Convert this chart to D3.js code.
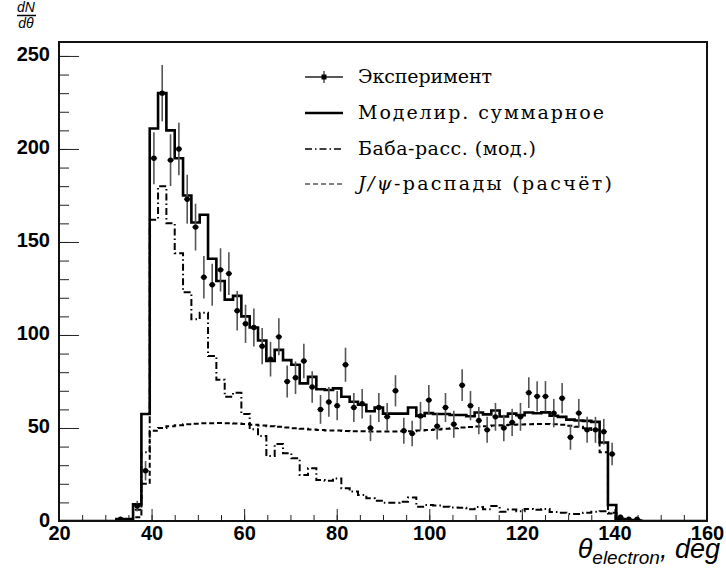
<!DOCTYPE html>
<html>
<head>
<meta charset="utf-8">
<script src="https://cdn.jsdelivr.net/npm/d3@7"></script>
<style>
  body { margin: 0; background: #fff; }
  svg { display: block; }
</style>
</head>
<body>
<div id="chart"></div>
<script>
// histogram binning (degrees)
const binStart = 32.4;
const binWidth = 1.8;

// experiment (points with errors)
const expData = [
  1, 0, 8, 27, 195, 230, 194, 200, 173, 158,
  131, 127, 135, 133, 113, 106, 104, 94, 87, 99,
  75, 77, 86, 72, 60, 64, 62, 84, 61, 63,
  50, 61, 56, 70, 48.5, 47, 56.5, 65, 51, 61,
  52, 73, 62, 54, 49, 56, 50, 53, 56, 69,
  67, 67, 58, 66, 45, 58, 49, 49, 48, 36,
  2, 1, 1
];

// simulated sum (solid)
const modelSum = [
  1, 1, 9, 57.5, 211, 230, 210, 195, 175, 160.5,
  164.6, 141, 129, 119, 121, 110, 104, 97, 86, 92,
  86.5, 84, 74, 77.5, 70.8, 70.4, 71.3, 66.8, 64.1, 62.5,
  59, 61, 57.7, 57.7, 57.7, 61, 56.5, 58, 57.5, 57.5,
  57, 57, 56.3, 58.3, 57.3, 59.4, 56.2, 57.7, 56.9, 58.3,
  57.9, 58.4, 56.6, 56, 54.5, 54, 53.8, 53.3, 42.2, 8.6,
  1, 0.5, 0.3
];

// Bhabha scattering (dash-dot)
const bhabha = [
  0.5, 0.5, 6, 37, 162, 180, 160, 144, 123, 108.4,
  112, 88.7, 76, 66.8, 69, 57.5, 49.3, 45.7, 35, 41.4,
  36.4, 33.7, 24.7, 28.3, 22, 21.7, 22.9, 17.6, 15.8, 14,
  12.2, 10.9, 9.8, 9.8, 10.4, 12.7, 7.7, 8.6, 8.3, 7.7,
  7.3, 7.1, 6.3, 7.5, 6.3, 8, 5, 6.2, 5.2, 6.5,
  6, 6.5, 4.8, 4.5, 3.8, 3.8, 4.5, 5, 5.2, 4.5,
  1, 0.5, 0.3
];

// J/psi decays (dashed)
const jpsi = [
  0, 0, 2, 20, 48.5, 50, 51, 51.5, 52, 52.3,
  52.5, 52.6, 52.7, 52.6, 52.4, 52.2, 51.8, 51.4, 51, 50.6,
  50.2, 49.9, 49.6, 49.2, 48.9, 48.7, 48.6, 48.4, 48.3, 48.2,
  48.1, 48.1, 48.1, 48.1, 48.2, 48.3, 48.6, 48.9, 49.2, 49.6,
  49.9, 50.2, 50.5, 50.8, 51, 51.3, 51.5, 51.7, 51.9, 52,
  52.1, 52.1, 52, 51.7, 51.2, 50.6, 49.8, 48.9, 37, 4,
  0.5, 0, 0
];

const xTicks = [20, 40, 60, 80, 100, 120, 140, 160];
const yTicks = [0, 50, 100, 150, 200, 250];

const legendItems = [
  { key: 'exp', label: 'Эксперимент', width: 134 },
  { key: 'sum', label: 'Моделир. суммарное', width: 246 },
  { key: 'bhabha', label: 'Баба-расс. (мод.)', width: 178 },
  { key: 'jpsi', label: 'J/ψ-распады (расчёт)', width: 254 }
];

const W = 726, H = 572;
const frame = { left: 59, right: 707, top: 42, bottom: 521 };

const svg = d3.select('#chart').append('svg')
  .attr('width', W).attr('height', H);

svg.append('rect').attr('width', W).attr('height', H).attr('fill', '#fff');

const x = d3.scaleLinear().domain([20, 160]).range([frame.left, frame.right]);
const y = d3.scaleLinear().domain([0, 257.5]).range([frame.bottom, frame.top]);

svg.append('defs').append('clipPath').attr('id', 'plotClip')
  .append('rect')
  .attr('x', frame.left).attr('y', frame.top)
  .attr('width', frame.right - frame.left)
  .attr('height', frame.bottom - frame.top);

// minor + major ticks, ROOT style (inside the frame)
const tickFont = g => g.selectAll('text')
  .attr('font-family', 'Liberation Sans, Arial, sans-serif')
  .attr('font-weight', 'bold')
  .attr('font-size', 20)
  .attr('fill', '#000');

svg.append('g')
  .attr('transform', `translate(0,${frame.bottom})`)
  .call(d3.axisBottom(x).tickValues(d3.range(20, 161, 5)).tickSize(-6).tickFormat(''))
  .call(g => g.select('.domain').remove())
  .call(g => g.selectAll('line').attr('stroke', '#222'));

svg.append('g')
  .attr('transform', `translate(0,${frame.bottom})`)
  .call(d3.axisBottom(x).tickValues(xTicks).tickSize(-12).tickPadding(5).tickFormat(d3.format('d')))
  .call(g => g.select('.domain').remove())
  .call(g => g.selectAll('line').attr('stroke', '#222'))
  .call(tickFont);

svg.append('g')
  .attr('transform', `translate(${frame.left},0)`)
  .call(d3.axisLeft(y).tickValues(d3.range(0, 251, 10)).tickSize(-10).tickFormat(''))
  .call(g => g.select('.domain').remove())
  .call(g => g.selectAll('line').attr('stroke', '#222'));

svg.append('g')
  .attr('transform', `translate(${frame.left},0)`)
  .call(d3.axisLeft(y).tickValues(yTicks).tickSize(-20).tickPadding(9).tickFormat(d3.format('d')))
  .call(g => g.select('.domain').remove())
  .call(g => g.selectAll('line').attr('stroke', '#222'))
  .call(tickFont)
  .call(g => g.selectAll('text').attr('dy', '0.25em'));

// histogram outlines
function histPoints(values) {
  const pts = [[20, 0]];
  values.forEach((v, i) => pts.push([binStart + i * binWidth, v]));
  pts.push([binStart + values.length * binWidth, 0]);
  pts.push([160, 0]);
  return pts;
}

const stepLine = d3.line()
  .x(d => x(d[0]))
  .y(d => y(d[1]))
  .curve(d3.curveStepAfter);

const plot = svg.append('g').attr('clip-path', 'url(#plotClip)');

plot.append('path')
  .attr('d', stepLine(histPoints(jpsi)))
  .attr('fill', 'none').attr('stroke', '#000')
  .attr('stroke-width', 2).attr('stroke-dasharray', '5,3');

plot.append('path')
  .attr('d', stepLine(histPoints(bhabha)))
  .attr('fill', 'none').attr('stroke', '#000')
  .attr('stroke-width', 2).attr('stroke-dasharray', '7,3,1.5,3');

plot.append('path')
  .attr('d', stepLine(histPoints(modelSum)))
  .attr('fill', 'none').attr('stroke', '#000')
  .attr('stroke-width', 2.6);

// experimental points
const pts = expData.map((v, i) => ({
  lo: binStart + i * binWidth,
  hi: binStart + (i + 1) * binWidth,
  c: binStart + (i + 0.5) * binWidth,
  v: v
})).filter(d => d.v > 0);

const pg = plot.append('g');
pg.selectAll('line.ey').data(pts).enter().append('line')
  .attr('class', 'ey')
  .attr('x1', d => x(d.c)).attr('x2', d => x(d.c))
  .attr('y1', d => y(d.v + Math.sqrt(d.v)))
  .attr('y2', d => y(Math.max(0, d.v - Math.sqrt(d.v))))
  .attr('stroke', '#555').attr('stroke-width', 1.6);
pg.selectAll('line.ex').data(pts).enter().append('line')
  .attr('class', 'ex')
  .attr('x1', d => x(d.lo) + 1).attr('x2', d => x(d.hi) - 1)
  .attr('y1', d => y(d.v)).attr('y2', d => y(d.v))
  .attr('stroke', '#111').attr('stroke-width', 1.3);
pg.selectAll('circle').data(pts).enter().append('circle')
  .attr('cx', d => x(d.c)).attr('cy', d => y(d.v))
  .attr('r', 2.7).attr('fill', '#000');

// frame
svg.append('rect')
  .attr('x', frame.left).attr('y', frame.top)
  .attr('width', frame.right - frame.left)
  .attr('height', frame.bottom - frame.top)
  .attr('fill', 'none').attr('stroke', '#111').attr('stroke-width', 2);

// legend
const legend = svg.append('g');
const rowY = [77, 113, 149, 184];
const symX0 = 305, symX1 = 343, textX = 358;

legendItems.forEach((item, i) => {
  const yy = rowY[i];
  const row = legend.append('g');
  if (item.key === 'exp') {
    row.append('line').attr('x1', symX0).attr('x2', symX1).attr('y1', yy).attr('y2', yy)
      .attr('stroke', '#222').attr('stroke-width', 1.3);
    row.append('line').attr('x1', (symX0 + symX1) / 2).attr('x2', (symX0 + symX1) / 2)
      .attr('y1', yy - 6).attr('y2', yy + 6).attr('stroke', '#333').attr('stroke-width', 1.3);
    row.append('rect').attr('x', (symX0 + symX1) / 2 - 2.5).attr('y', yy - 2.5)
      .attr('width', 5).attr('height', 5).attr('fill', '#000');
  } else {
    const l = row.append('line').attr('x1', symX0).attr('x2', symX1).attr('y1', yy).attr('y2', yy)
      .attr('stroke', '#000');
    if (item.key === 'sum') l.attr('stroke-width', 2.6);
    if (item.key === 'bhabha') l.attr('stroke-width', 1.3).attr('stroke-dasharray', '7,3,1.5,3');
    if (item.key === 'jpsi') l.attr('stroke-width', 1.3).attr('stroke-dasharray', '5,3').attr('stroke', '#555');
  }
  const t = row.append('text')
    .attr('x', textX).attr('y', yy + 6)
    .attr('font-family', 'DejaVu Serif, Liberation Serif, serif')
    .attr('font-size', 19)
    .attr('textLength', item.width)
    .attr('lengthAdjust', 'spacing')
    .attr('fill', '#000');
  if (item.key === 'jpsi') {
    t.append('tspan').attr('font-style', 'italic').text('J/ψ');
    t.append('tspan').text('-распады (расчёт)');
  } else {
    t.text(item.label);
  }
});

// y title: dN / dθ
const yt = svg.append('g')
  .attr('font-family', 'Liberation Sans, Arial, sans-serif')
  .attr('font-style', 'italic')
  .attr('font-size', 14);
yt.append('text').attr('x', 26).attr('y', 12).attr('text-anchor', 'middle').text('dN');
yt.append('line').attr('x1', 17).attr('x2', 36).attr('y1', 15.5).attr('y2', 15.5)
  .attr('stroke', '#000').attr('stroke-width', 1.5);
yt.append('text').attr('x', 26).attr('y', 28).attr('text-anchor', 'middle').text('dθ');

// x title
const xt = svg.append('text')
  .attr('x', 720).attr('y', 558)
  .attr('text-anchor', 'end')
  .attr('font-family', 'Liberation Sans, Arial, sans-serif')
  .attr('font-style', 'italic')
  .attr('font-size', 27)
  .attr('fill', '#000');
xt.append('tspan').text('θ');
xt.append('tspan').attr('font-size', 19).attr('dy', 6).text('electron');
xt.append('tspan').attr('dy', -6).text(', deg');
</script>
</body>
</html>
